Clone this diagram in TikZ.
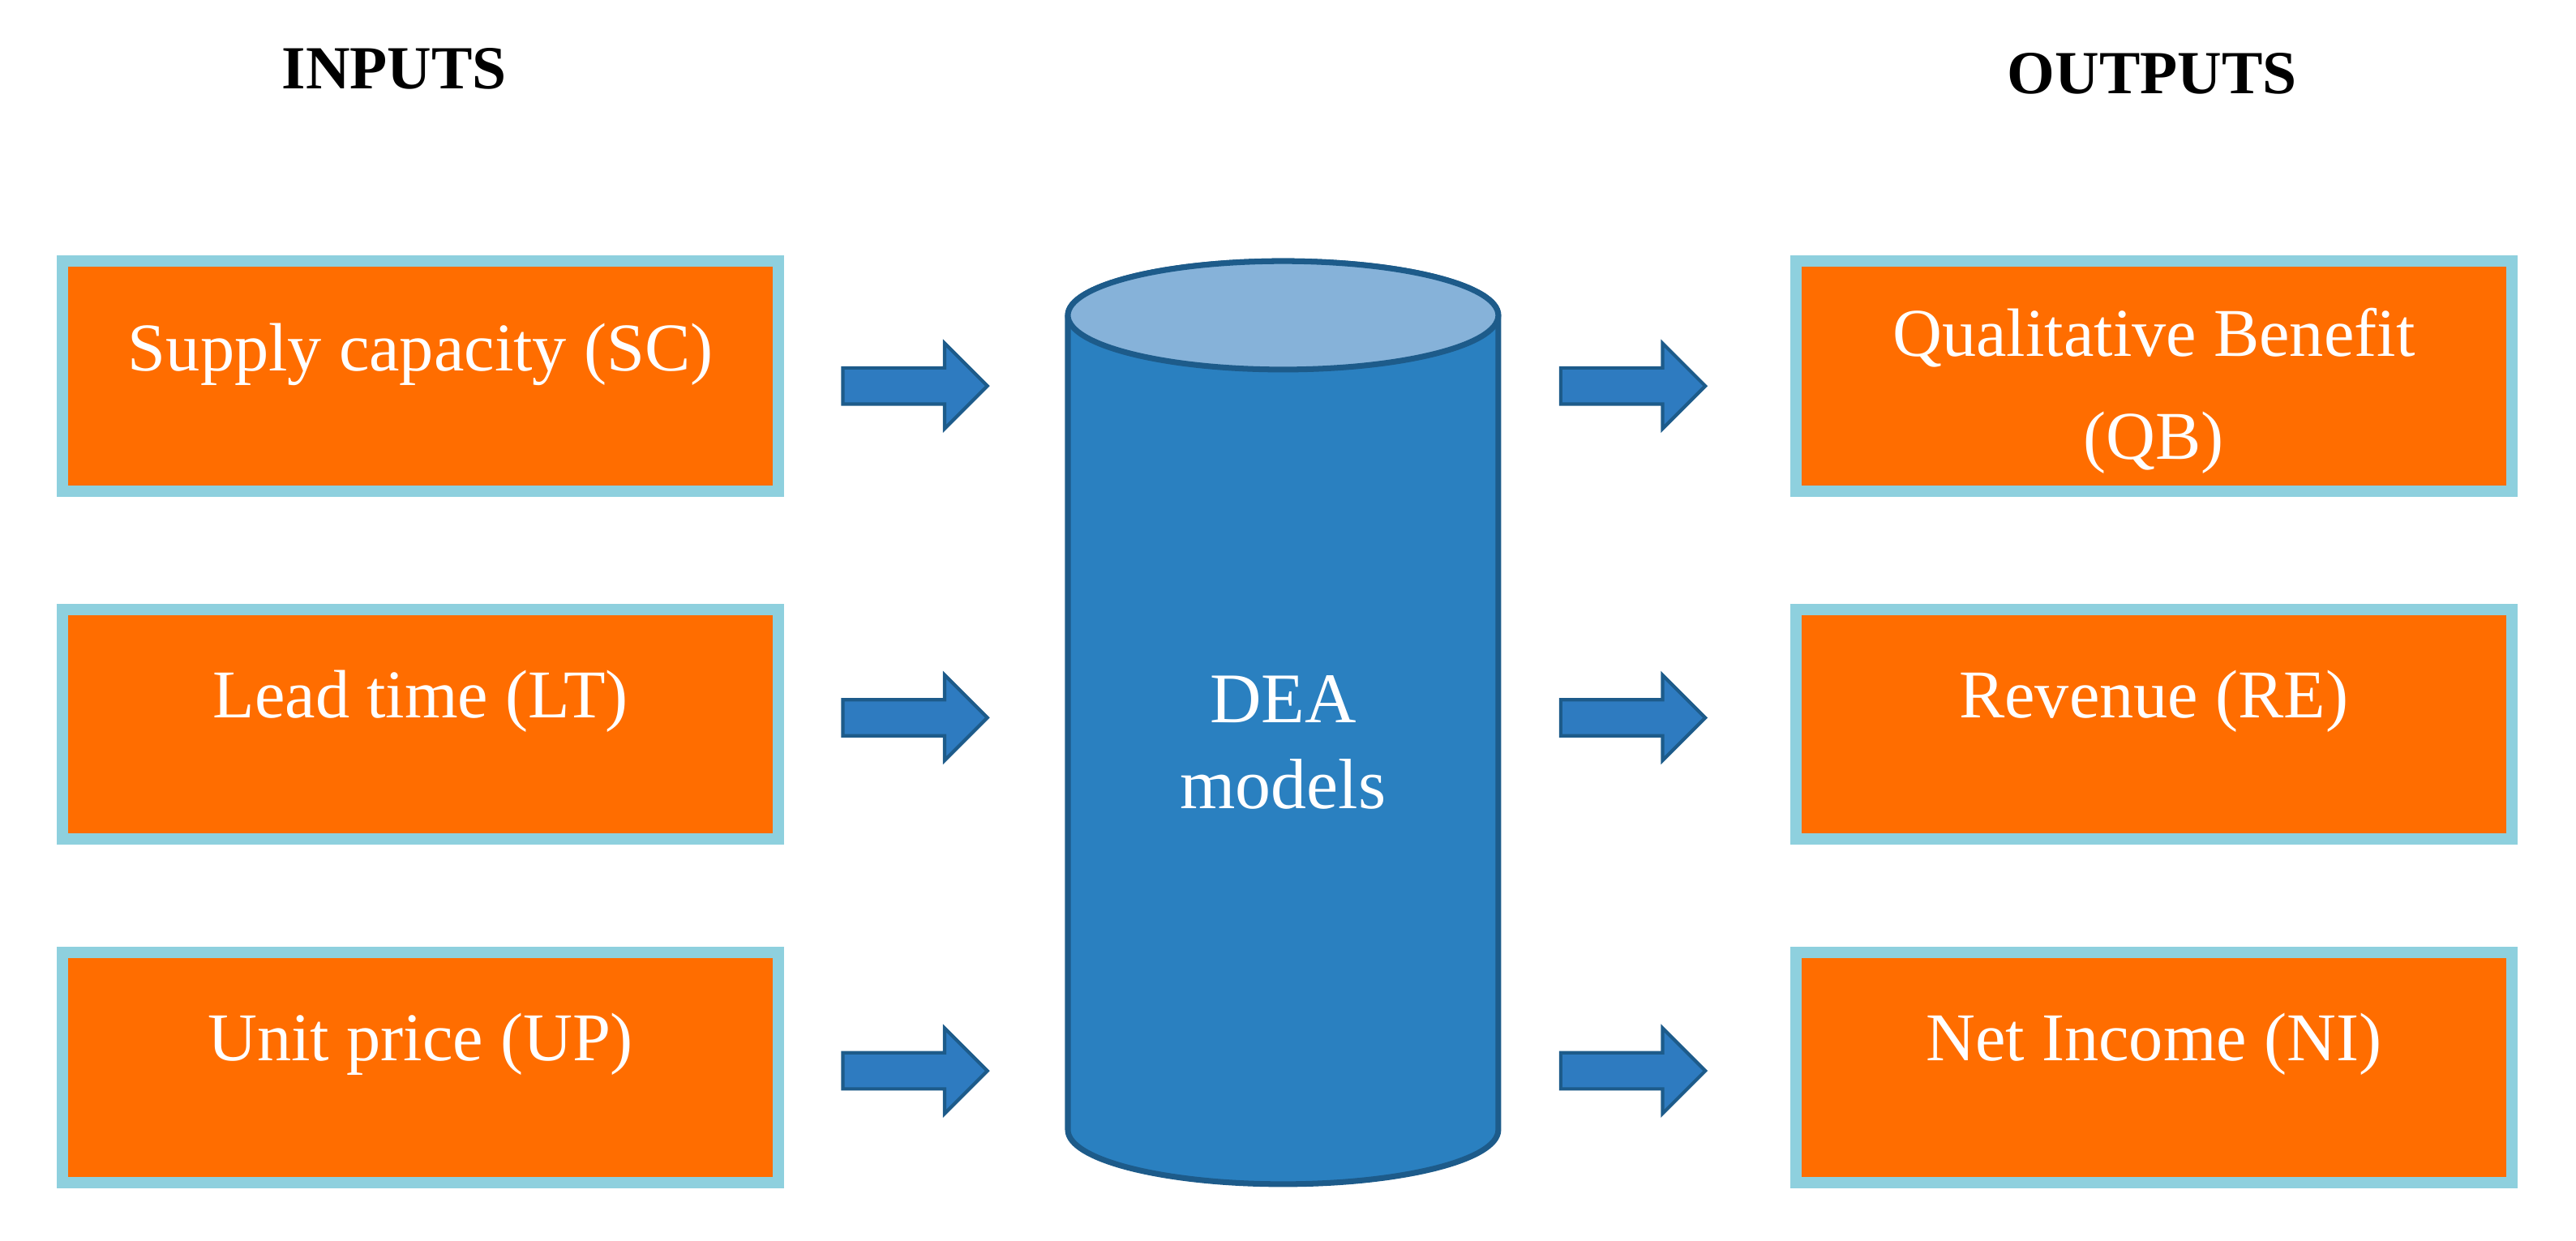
\documentclass[tikz,border=0pt]{standalone}
\usepackage{fontspec}
\setmainfont{Liberation Serif}
\usetikzlibrary{shapes.geometric}
\definecolor{org}{HTML}{FF6D00}
\definecolor{bord}{HTML}{8ED0DE}
\definecolor{cyl}{HTML}{2A80C0}
\definecolor{cyltop}{HTML}{86B2D9}
\definecolor{cylb}{HTML}{1D5B8A}
\definecolor{arr}{HTML}{2E7BC0}
\begin{document}
\begin{tikzpicture}[x=0.02026cm,y=-0.02026cm,
 box/.style={draw=bord,line width=4pt,fill=org,minimum width=436*0.02026cm,minimum height=140*0.02026cm,align=center,text=white,font=\fontsize{24}{36}\selectfont,inner sep=0pt},
 lbl/.style={text=white,font=\fontsize{24}{36}\selectfont,align=center},
 hd/.style={font=\bfseries\fontsize{21.5}{26}\selectfont},
 ar/.style={fill=arr,draw=cylb,line width=1.2pt}]
\useasboundingbox (0,0) rectangle (1568,755.6);
\fill[white] (0,0) rectangle (1568,755.6);
\node[hd] (in) at (240,42) {INPUTS};
\node[hd] (out) at (1310,45) {OUTPUTS};
\node[box] (sc) at (256,229) {};
\node[box] (lt) at (256,441) {};
\node[box] (up) at (256,650) {};
\node[box] (qb) at (1311,229) {};
\node[box] (re) at (1311,441) {};
\node[box] (ni) at (1311,650) {};
\node[lbl] (tsc) at (256,216) {Supply capacity (SC)};
\node[lbl] (tlt) at (256,427) {Lead time (LT)};
\node[lbl] (tup) at (256,636) {Unit price (UP)};
\node[lbl] (tqb) at (1311,238) {Qualitative Benefit\\(QB)};
\node[lbl] (tre) at (1311,427) {Revenue (RE)};
\node[lbl] (tni) at (1311,636) {Net Income (NI)};
% cylinder
\draw[cylb,line width=2pt,fill=cyl] (650,192) -- (650,688) arc[start angle=180,end angle=0,x radius=131,y radius=33] -- (912,192) arc[start angle=0,end angle=-180,x radius=131,y radius=33] -- cycle;
\draw[cylb,line width=2pt,fill=cyltop] (781,192) ellipse[x radius=131,y radius=33];
\node[text=white,font=\fontsize{25}{30}\selectfont,align=center] (dea) at (781,452) {DEA\\models};
% arrows
\foreach \x/\y in {513/235,513/437,513/652,950/235,950/437,950/652}{
 \draw[ar] (\x,\y-11) -- (\x+62,\y-11) -- (\x+62,\y-26) -- (\x+88,\y) -- (\x+62,\y+26) -- (\x+62,\y+11) -- (\x,\y+11) -- cycle;}
\end{tikzpicture}
\end{document}
